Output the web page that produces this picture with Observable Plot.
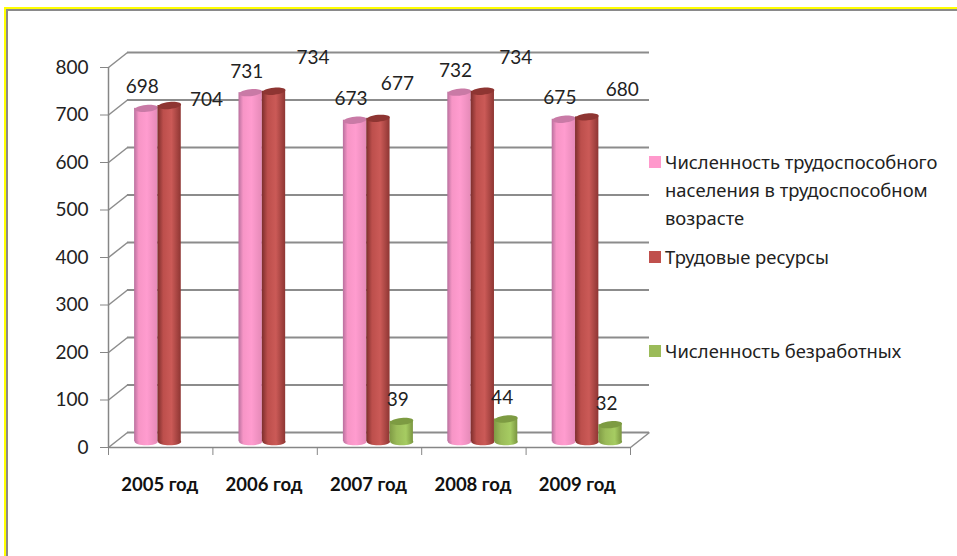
<!DOCTYPE html>
<html lang="ru">
<head>
<meta charset="utf-8">
<script src="https://cdn.jsdelivr.net/npm/d3@7"></script>
<script src="https://cdn.jsdelivr.net/npm/@observablehq/plot@0.6"></script>
<style>
  html, body { margin: 0; padding: 0; background: #fff; }
  #stage { position: relative; width: 957px; height: 556px; overflow: hidden; font-family: "Noto Sans", sans-serif; }
  #frame { position: absolute; left: 4px; top: 7px; width: 953px; height: 549px; border-left: 2px solid #ffff00; border-top: 2px solid #ffff00; box-sizing: border-box; }
  #frame::after { content: ""; position: absolute; left: 0; top: 0; right: 0; bottom: 0; border-left: 2px solid #8a8a8a; border-top: 2px solid #8a8a8a; }
  #chart { position: absolute; left: 0; top: 0; }
  #legend { position: absolute; left: 649px; top: 0; width: 300px; color: #222; font-size: 18.4px; line-height: 28px; }
  .item { position: absolute; left: 0; padding-left: 16px; white-space: nowrap; }
  .item i { position: absolute; left: 0; top: 8px; width: 12px; height: 12px; }
</style>
</head>
<body>
<div id="stage">
  <svg width="0" height="0" style="position:absolute">
    <defs>
      <linearGradient id="gPink"><stop offset="0" stop-color="#b9709e"/><stop offset=".2" stop-color="#f795c6"/><stop offset=".55" stop-color="#ff9ccf"/><stop offset="1" stop-color="#e58ab8"/></linearGradient>
      <linearGradient id="gRed"><stop offset="0" stop-color="#7c2e2c"/><stop offset=".25" stop-color="#bd4f4c"/><stop offset=".6" stop-color="#cb5a57"/><stop offset="1" stop-color="#8e3633"/></linearGradient>
      <linearGradient id="gGreen"><stop offset="0" stop-color="#7f9a45"/><stop offset=".3" stop-color="#9bbb59"/><stop offset=".7" stop-color="#a6cc62"/><stop offset="1" stop-color="#7a9640"/></linearGradient>
    </defs>
  </svg>
  <div id="frame"></div>
  <div id="chart"></div>
  <div id="legend"></div>
</div>
<script>
const years = ["2005 год", "2006 год", "2007 год", "2008 год", "2009 год"];
const able = [698, 731, 673, 732, 675];
const labour = [704, 734, 677, 734, 680];
const unemployed = [null, null, 39, 44, 32];
const yTicks = [0, 100, 200, 300, 400, 500, 600, 700, 800];
const seriesNames = ["Численность трудоспособного\nнаселения в трудоспособном\nвозрасте", "Трудовые ресурсы", "Численность безработных"];
const seriesColors = ["#ff99cc", "#c0504d", "#9bbb59"];

// 3-D look expressed in data units: wall depth and the floor level of the columns
const depthX = 0.182, depthY = 31.6, floor = 12, lift = 16;
const slotStart = 0.25, slotWidth = 0.2235;

const rows = (values, slot) => years.map((year, i) => ({
  year, value: values[i],
  x1: i + slotStart + slot * slotWidth,
  x2: i + slotStart + (slot + 1) * slotWidth,
  xc: i + slotStart + (slot + 0.5) * slotWidth,
  top: values[i] + lift
})).filter(d => d.value != null);

const ableRows = rows(able, 0), labourRows = rows(labour, 1), unempRows = rows(unemployed, 2);

const ellipse = {
  draw(ctx, size) {
    const rx = Math.sqrt(size / Math.PI), ry = rx * 0.3, k = 0.5523;
    ctx.moveTo(-rx, 0);
    ctx.bezierCurveTo(-rx, -ry * k, -rx * k, -ry, 0, -ry);
    ctx.bezierCurveTo(rx * k, -ry, rx, -ry * k, rx, 0);
    ctx.bezierCurveTo(rx, ry * k, rx * k, ry, 0, ry);
    ctx.bezierCurveTo(-rx * k, ry, -rx, ry * k, -rx, 0);
    ctx.closePath();
  }
};

const column = (data, grad, cap) => [
  Plot.dot(data, {x: "xc", y: floor, r: 11.6, symbol: ellipse, fill: grad, stroke: "none"}),
  Plot.rect(data, {x1: "x1", x2: "x2", y1: floor, y2: "top", fill: grad}),
  Plot.dot(data, {x: "xc", y: "top", r: 11.6, symbol: ellipse, fill: cap, stroke: "none", rotate: -6})
];

// hand-placed labels of the "Трудовые ресурсы" series, as in the reference
const labourNudge = [[37, -6], [39, -33], [19, -34], [33, -33], [35, -27]];

const labelStyle = {fontSize: 19, fontFamily: "Lato, 'Noto Sans', sans-serif", fill: "#222", stroke: "none"};

const plot = Plot.plot({
  width: 957, height: 556,
  marginLeft: 108, marginRight: 327, marginTop: 67, marginBottom: 109,
  style: {background: "transparent", overflow: "visible"},
  x: {domain: [0, 5], axis: null},
  y: {domain: [0, 800], axis: null},
  marks: [
    // back wall grid
    Plot.ruleY(yTicks, {x1: depthX, x2: 5 + depthX, y: d => d + depthY, stroke: "#8c8c8c", strokeWidth: 2}),
    Plot.link(yTicks, {x1: 0, x2: depthX, y1: d => d, y2: d => d + depthY, stroke: "#8c8c8c", strokeWidth: 1.5}),
    Plot.link([0], {x1: 5, x2: 5 + depthX, y1: 0, y2: depthY, stroke: "#8c8c8c", strokeWidth: 1.5}),
    // front axes
    Plot.ruleX([0], {y1: 0, y2: 800, stroke: "#868686", strokeWidth: 1.5}),
    Plot.ruleY([0], {x1: 0, x2: 5, stroke: "#868686", strokeWidth: 1.5}),
    Plot.axisY(yTicks, {tickSize: 8, tickPadding: 12, stroke: "#868686", fill: "#222", fontSize: 19, fontFamily: "Lato, 'Noto Sans', sans-serif", tickFormat: d => d, label: null}),
    Plot.axisX([0, 1, 2, 3, 4, 5], {tickSize: 8, stroke: "#868686", tickFormat: () => "", label: null}),
    Plot.text(years, {x: (d, i) => i + 0.5, y: 0, dx: -1, dy: 38, text: d => d, fontSize: 18.5, fontWeight: "bold", fontFamily: "Lato, 'Noto Sans', sans-serif", fill: "#111"}),
    // columns
    ...column(ableRows, "url(#gPink)", "#c97aa6"),
    ...column(labourRows, "url(#gRed)", "#8e3532"),
    ...column(unempRows, "url(#gGreen)", "#7d9b42"),
    // value labels
    Plot.text(ableRows, {x: "xc", y: "top", text: "value", dx: -4, dy: -21, ...labelStyle}),
    ...labourRows.map((d, i) => Plot.text([d], {x: "xc", y: "top", text: "value", dx: labourNudge[i][0], dy: labourNudge[i][1], ...labelStyle})),
    Plot.text(unempRows, {x: "xc", y: "top", text: "value", dx: -4, dy: -21, ...labelStyle})
  ]
});
document.getElementById("chart").appendChild(plot);

// legend
const legendTops = [148, 243, 337];
const legend = document.getElementById("legend");
seriesNames.forEach((name, i) => {
  const item = document.createElement("div");
  item.className = "item";
  item.style.top = legendTops[i] + "px";
  item.innerHTML = `<i style="background:${seriesColors[i]}"></i>` + name.split("\n").join("<br>");
  legend.appendChild(item);
});
</script>
</body>
</html>
